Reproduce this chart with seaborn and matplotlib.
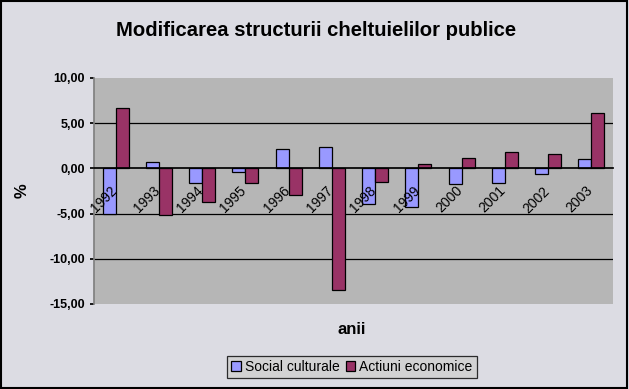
import matplotlib
matplotlib.use("Agg")
import matplotlib.pyplot as plt
import matplotlib.transforms as mtransforms
import seaborn as sns
import pandas as pd
import numpy as np

years = ["1992", "1993", "1994", "1995", "1996", "1997", "1998", "1999", "2000", "2001", "2002", "2003"]
social_culturale = [-5.05, 0.7, -1.65, -0.4, 2.2, 2.35, -3.95, -4.3, -1.75, -1.65, -0.65, 1.0]
actiuni_economice = [6.65, -5.2, -3.75, -1.6, -2.95, -13.4, -1.45, 0.45, 1.1, 1.8, 1.55, 6.1]
series_names = ["Social culturale", "Actiuni economice"]
yticks = [10, 5, 0, -5, -10, -15]

df = pd.DataFrame({
    "an": years * 2,
    "valoare": social_culturale + actiuni_economice,
    "serie": [series_names[0]] * len(years) + [series_names[1]] * len(years),
})

sns.set_theme(style="white")
plt.rcParams["font.family"] = ["Liberation Sans", "DejaVu Sans"]
plt.rcParams["text.color"] = "black"
plt.rcParams["axes.labelcolor"] = "black"
plt.rcParams["xtick.color"] = "black"
plt.rcParams["ytick.color"] = "black"

fig = plt.figure(figsize=(6.29, 3.89), dpi=100)
fig.patch.set_facecolor("#dcdce3")
ax = fig.add_axes([94 / 629, 1 - 304 / 389, 519 / 629, 226 / 389])
ax.set_facecolor("#b6b6b6")

palette = {series_names[0]: "#9999ff", series_names[1]: "#993366"}
sns.barplot(data=df, x="an", y="valoare", hue="serie", palette=palette,
            width=0.6, edgecolor="black", linewidth=0.9, ax=ax, zorder=3,
            saturation=1)

ax.set_ylim(-15, 10)
ax.set_xlim(-0.5, len(years) - 0.5)
ax.set_yticks(yticks)
ax.set_yticklabels([f"{v:.2f}".replace(".", ",") for v in yticks],
                   fontsize=9, fontweight="bold")
for v in [5, -5, -10]:
    ax.axhline(v, color="black", lw=0.9, zorder=1)

for s in ["top", "right"]:
    ax.spines[s].set_visible(False)
ax.spines["left"].set_color("#808080")
ax.spines["bottom"].set_position(("data", 0))
ax.spines["bottom"].set_color("black")
ax.spines["bottom"].set_zorder(4)
ax.xaxis.set_zorder(5)

ax.set_xticks(range(len(years)))
ax.set_xticklabels(years, rotation=45, ha="right", va="top", fontsize=10,
                   rotation_mode="anchor")
ax.tick_params(axis="x", length=0, pad=11)
offset = mtransforms.ScaledTranslation(-6 / 100, 0, fig.dpi_scale_trans)
for lab in ax.get_xticklabels():
    lab.set_transform(lab.get_transform() + offset)
ax.set_xticks(np.arange(-0.5, len(years)), minor=True)
ax.tick_params(axis="x", which="minor", length=3, direction="out", color="black")
ax.tick_params(axis="y", length=3, direction="out", left=True, color="black")

ax.set_xlabel("")
ax.set_ylabel("%", fontsize=12, fontweight="bold", labelpad=14)
fig.text(352 / 629, 1 - 330 / 389, "anii", fontsize=12, fontweight="bold",
         ha="center", va="center")
fig.text(316 / 629, 1 - 31 / 389, "Modificarea structurii cheltuielilor publice",
         fontsize=14.6, fontweight="bold", ha="center", va="center")

leg = ax.legend(loc="center", bbox_to_anchor=(352 / 629, 1 - 367 / 389),
                bbox_transform=fig.transFigure, ncol=2, frameon=True,
                fontsize=10, handlelength=0.7, handleheight=0.7,
                handletextpad=0.3, columnspacing=0.4, borderpad=0.3,
                fancybox=False)
leg.get_frame().set_edgecolor("black")
leg.get_frame().set_facecolor("#d0d0d0")
leg.get_frame().set_linewidth(0.9)

fig.add_artist(plt.Rectangle((0.002, 0.003), 0.995, 0.994, transform=fig.transFigure,
                             fill=False, edgecolor="black", lw=1.5))

fig.savefig("out.png", dpi=100, facecolor=fig.get_facecolor())
